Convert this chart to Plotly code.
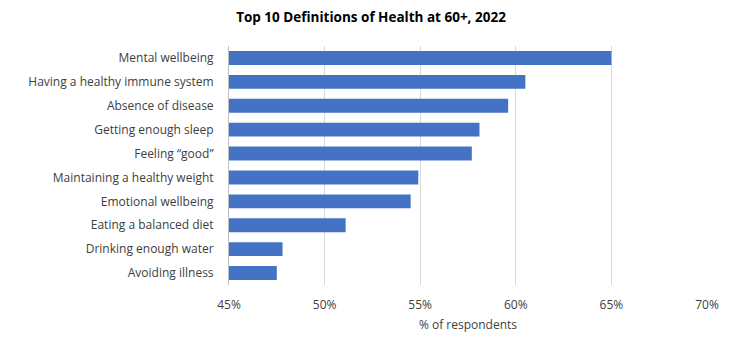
import plotly.graph_objects as go

categories = [
    "Mental wellbeing",
    "Having a healthy immune system",
    "Absence of disease",
    "Getting enough sleep",
    "Feeling \u201cgood\u201d",
    "Maintaining a healthy weight",
    "Emotional wellbeing",
    "Eating a balanced diet",
    "Drinking enough water",
    "Avoiding illness",
]
values = [65.0, 60.5, 59.6, 58.1, 57.7, 54.9, 54.5, 51.1, 47.8, 47.5]
tick_vals = [45, 50, 55, 60, 65, 70]
tick_text = ["45%", "50%", "55%", "60%", "65%", "70%"]

font_family = "Open Sans, Lato, sans-serif"

fig = go.Figure(
    go.Bar(
        x=[v - 45 for v in values],
        base=45,
        y=categories,
        orientation="h",
        marker=dict(color="#4472C4", line=dict(width=0)),
        hoverinfo="skip",
    )
)

fig.update_layout(
    width=730,
    height=344,
    margin=dict(l=229, r=23, t=46, b=59),
    paper_bgcolor="white",
    plot_bgcolor="white",
    bargap=0.42,
    showlegend=False,
    title=dict(
        text="<b>Top 10 Definitions of Health at 60+, 2022</b>",
        x=371 / 730,
        xref="container",
        xanchor="center",
        y=1 - 17 / 344,
        yref="container",
        yanchor="middle",
        font=dict(family=font_family, size=13.5, color="#000000"),
    ),
    font=dict(family=font_family, size=12, color="#404040"),
)

fig.update_xaxes(
    range=[45, 70],
    tickvals=tick_vals,
    ticktext=tick_text,
    showgrid=True,
    gridcolor="#D9D9D9",
    gridwidth=1,
    zeroline=False,
    showline=False,
    ticks="",
    ticklabelstandoff=11,
    tickfont=dict(size=12, color="#404040"),
    title=dict(text="% of respondents", font=dict(size=12, color="#404040"), standoff=8),
)

fig.update_yaxes(
    autorange="reversed",
    showline=True,
    linecolor="#BFBFBF",
    linewidth=1,
    ticks="",
    ticklabelstandoff=12,
    tickfont=dict(size=12, color="#404040"),
    showgrid=False,
)

fig.write_html("out.html")
